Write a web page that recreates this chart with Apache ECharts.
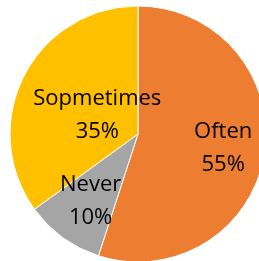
<!DOCTYPE html>
<html>
<head>
<meta charset="utf-8">
<script src="https://cdn.jsdelivr.net/npm/echarts@6/dist/echarts.min.js"></script>
<style>
  html, body { margin: 0; padding: 0; background: #fff; }
  #chart { width: 259px; height: 261px; }
</style>
</head>
<body>
<div id="chart"></div>
<script>
// answers, shares (%) and slice colours
const names = ['Often', 'Never', 'Sopmetimes'];
const shares = [55, 10, 35];
const colors = ['#ED7D31', '#A5A5A5', '#FFC000'];

// nudges from the default inside-label spot, like Excel's best fit
const nudge = [[19, 4], [-8, 13], [19, 12]];

const chart = echarts.init(document.getElementById('chart'));

chart.setOption({
  animation: false,
  series: [
    {
      type: 'pie',
      center: [138, 134],
      radius: 128,
      startAngle: 90,
      clockwise: true,
      data: names.map((n, i) => ({
        name: n,
        value: shares[i],
        itemStyle: { color: colors[i] }
      })),
      itemStyle: { borderColor: '#fff', borderWidth: 1 },
      label: {
        position: 'inside',
        formatter: '{b}\n{d}%',
        color: '#000',
        fontFamily: 'Open Sans',
        fontSize: 22,
        lineHeight: 33
      },
      labelLayout: (p) => ({ dx: nudge[p.dataIndex][0], dy: nudge[p.dataIndex][1] }),
      emphasis: { disabled: true }
    }
  ]
});
</script>
</body>
</html>
